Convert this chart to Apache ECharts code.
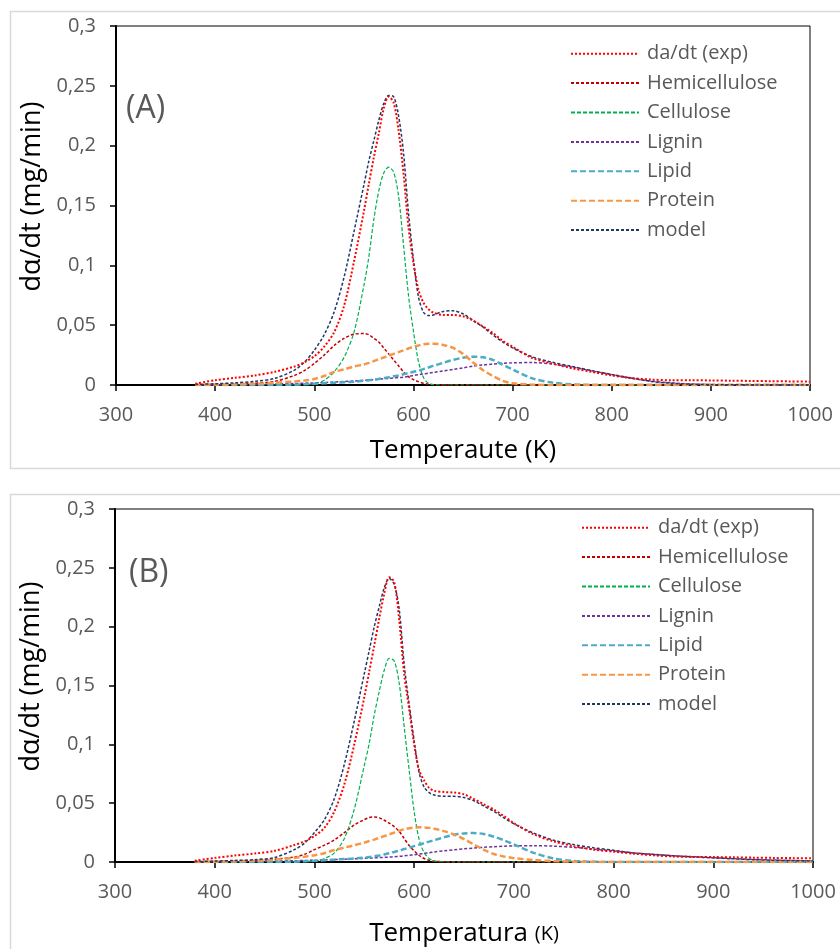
<!DOCTYPE html>
<html>
<head>
<meta charset="utf-8">
<script src="https://cdn.jsdelivr.net/npm/echarts@6/dist/echarts.min.js"></script>
<style>
html,body{margin:0;padding:0;background:#fff;}
#chart{width:840px;height:949px;}
</style>
</head>
<body>
<div id="chart"></div>
<script>
// Temperature grid (K)
var temps = [380,400,420,440,460,480,490,500,510,520,530,540,550,555,560,565,570,575,580,585,590,595,600,605,610,615,620,630,640,650,660,670,680,690,700,720,740,760,780,800,820,840,860,880,900,920,940,960,980,1000];

// Panel A
var expA = [0.001,0.004,0.006,0.008,0.011,0.0155,0.019,0.024,0.032,0.044,0.066,0.103,0.145,0.168,0.19,0.21,0.231,0.241,0.236,0.213,0.177,0.132,0.102,0.08,0.069,0.0635,0.0605,0.0585,0.0585,0.0575,0.054,0.049,0.0435,0.037,0.032,0.0225,0.018,0.014,0.011,0.008,0.0058,0.0045,0.004,0.004,0.0038,0.0036,0.0034,0.0032,0.003,0.0028];
var hemiA = [0,0.0003,0.0007,0.0015,0.003,0.008,0.012,0.018,0.025,0.033,0.039,0.0425,0.043,0.042,0.039,0.036,0.031,0.026,0.021,0.016,0.011,0.007,0.0045,0.0028,0.0015,0.0007,0.0003,0,0,0,0,0,0,0,0,0,0,0,0,0,0,0,0,0,0,0,0,0,0,0];
var cellA = [0,0,0,0,0,0,0.0003,0.001,0.004,0.011,0.023,0.044,0.083,0.107,0.138,0.162,0.177,0.182,0.178,0.158,0.117,0.075,0.045,0.02,0.0065,0.0015,0.0003,0,0,0,0,0,0,0,0,0,0,0,0,0,0,0,0,0,0,0,0,0,0,0];
var ligA = [0,0.0002,0.0003,0.0005,0.0008,0.0012,0.0015,0.0018,0.0021,0.0025,0.0029,0.0033,0.0039,0.0042,0.0045,0.0048,0.0052,0.0055,0.0058,0.0062,0.0066,0.0072,0.008,0.0086,0.0092,0.0098,0.0105,0.0118,0.013,0.0143,0.0158,0.0167,0.0175,0.0181,0.0185,0.0188,0.0175,0.015,0.0118,0.0087,0.0055,0.0033,0.0018,0.0009,0.0004,0.0002,0,0,0,0];
var lipA = [0,0,0,0,0,0.0003,0.0006,0.001,0.0014,0.0018,0.0023,0.0028,0.0035,0.004,0.0045,0.005,0.0058,0.0065,0.0073,0.008,0.009,0.01,0.011,0.012,0.0133,0.0146,0.016,0.0185,0.021,0.0228,0.0237,0.0232,0.021,0.017,0.013,0.0055,0.002,0.0005,0,0,0,0,0,0,0,0,0,0,0,0];
var protA = [0,0.0003,0.0006,0.001,0.0018,0.003,0.0037,0.005,0.0075,0.011,0.013,0.0155,0.0172,0.0185,0.02,0.0215,0.023,0.0245,0.026,0.0275,0.029,0.0305,0.032,0.033,0.034,0.0345,0.0345,0.0335,0.031,0.026,0.019,0.0125,0.0075,0.0035,0.0015,0.0003,0,0,0,0,0,0,0,0,0,0,0,0,0,0];
var modelA = [0.0005,0.001,0.0018,0.003,0.0055,0.0125,0.019,0.029,0.042,0.061,0.09,0.128,0.167,0.187,0.204,0.221,0.235,0.242,0.241,0.225,0.194,0.144,0.105,0.074,0.061,0.058,0.0585,0.0615,0.062,0.0595,0.054,0.0485,0.042,0.036,0.031,0.0235,0.019,0.0155,0.012,0.0088,0.0058,0.003,0.0015,0.0007,0.0003,0.0002,0.0001,0.0001,0,0];

// Panel B
var expB = [0.001,0.0035,0.0055,0.0072,0.0095,0.0145,0.0175,0.022,0.029,0.043,0.066,0.1,0.14,0.162,0.184,0.207,0.228,0.242,0.238,0.206,0.16,0.13,0.1,0.078,0.0694,0.063,0.0605,0.0595,0.059,0.0575,0.0535,0.049,0.0445,0.039,0.033,0.0235,0.0175,0.0135,0.0105,0.0088,0.0071,0.0057,0.0047,0.0043,0.0042,0.004,0.0037,0.0035,0.0033,0.0031];
var hemiB = [0,0.0003,0.0006,0.0012,0.0023,0.0043,0.0065,0.0105,0.0143,0.0188,0.025,0.0315,0.036,0.0378,0.0382,0.0375,0.0355,0.033,0.03,0.026,0.02,0.014,0.0095,0.0055,0.003,0.0015,0.0007,0.0002,0,0,0,0,0,0,0,0,0,0,0,0,0,0,0,0,0,0,0,0,0,0];
var cellB = [0,0,0,0,0,0,0.0002,0.0007,0.003,0.0078,0.02,0.045,0.082,0.101,0.125,0.145,0.163,0.173,0.171,0.152,0.115,0.078,0.043,0.019,0.008,0.003,0.001,0,0,0,0,0,0,0,0,0,0,0,0,0,0,0,0,0,0,0,0,0,0,0];
var ligB = [0,0.0002,0.0004,0.0006,0.0008,0.0011,0.0013,0.0015,0.0018,0.0021,0.0024,0.0027,0.0031,0.0033,0.0035,0.0037,0.004,0.0042,0.0045,0.0048,0.0052,0.0057,0.0062,0.0067,0.0073,0.0079,0.0085,0.0095,0.0104,0.0112,0.0119,0.0125,0.013,0.0134,0.0137,0.0139,0.0135,0.0124,0.0109,0.0094,0.0077,0.0064,0.0053,0.0045,0.0037,0.0029,0.0022,0.0017,0.0013,0.0009];
var lipB = [0,0,0,0,0,0.0003,0.0006,0.001,0.0015,0.002,0.0025,0.003,0.0038,0.0042,0.0048,0.0055,0.0064,0.0074,0.0085,0.0097,0.011,0.0122,0.0135,0.0148,0.016,0.0173,0.0185,0.021,0.0232,0.0243,0.0246,0.0238,0.0215,0.0185,0.015,0.0078,0.003,0.0009,0.0002,0,0,0,0,0,0,0,0,0,0,0];
var protB = [0,0.0003,0.0006,0.001,0.002,0.0035,0.0045,0.0058,0.0075,0.0102,0.0122,0.0143,0.0165,0.0178,0.019,0.0205,0.022,0.0235,0.025,0.0265,0.0278,0.0287,0.0293,0.0295,0.0294,0.029,0.0283,0.0262,0.0233,0.0195,0.0148,0.0103,0.0068,0.0047,0.0033,0.0017,0.0008,0.0003,0.0001,0,0,0,0,0,0,0,0,0,0,0];
var modelB = [0.0003,0.0008,0.0013,0.002,0.0038,0.0105,0.016,0.025,0.036,0.054,0.083,0.12,0.16,0.18,0.2,0.217,0.233,0.241,0.236,0.215,0.168,0.134,0.103,0.076,0.0637,0.059,0.057,0.0558,0.0558,0.0548,0.052,0.0475,0.043,0.0375,0.0325,0.0245,0.0185,0.0148,0.0121,0.01,0.0077,0.0065,0.0053,0.0043,0.0035,0.0027,0.002,0.0015,0.0012,0.0009];

// Labels
var seriesNames = ['da/dt (exp)','Hemicellulose','Cellulose','Lignin','Lipid','Protein','model'];
var xTickLabels = ['300','400','500','600','700','800','900','1000'];
var yTickLabels = ['0','0,05','0,1','0,15','0,2','0,25','0,3'];
var panelLabels = ['(A)','(B)'];
var yTitle = 'dα/dt (mg/min)';
var xTitleA = 'Temperaute (K)';
var xTitleB = ['Temperatura','(K)'];

var styles = [
  {color:'#FF0000', width:2, type:[2,2]},
  {color:'#C00000', width:1.5, type:[3,2]},
  {color:'#00B050', width:1.2, type:[4,2]},
  {color:'#7030A0', width:1.5, type:[3,2]},
  {color:'#4BACC6', width:2.5, type:[6,3]},
  {color:'#F79646', width:2.5, type:[6,3]},
  {color:'#203864', width:1.5, type:[3,2]}
];
var dataA = [expA,hemiA,cellA,ligA,lipA,protA,modelA];
var dataB = [expB,hemiB,cellB,ligB,lipB,protB,modelB];

var drawOrder = [1,2,3,4,5,6,0];
var series = [];
[dataA,dataB].forEach(function(set, g){
  drawOrder.forEach(function(k){
    series.push({
      name: seriesNames[k], type:'line', xAxisIndex:g, yAxisIndex:g,
      symbol:'none', smooth:0.3, silent:true, animation:false,
      data: temps.map(function(t,i){return [t, set[k][i]];}),
      lineStyle:{color:styles[k].color, width:styles[k].width, type:styles[k].type},
      itemStyle:{color:styles[k].color},
      z: k===0 ? 3 : 2
    });
  });
});

var tickFont = {fontFamily:'Open Sans', fontSize:20, color:'#595959'};

function xAxis(g, name, gap){
  return {
    type:'value', gridIndex:g, min:300, max:1000, interval:100,
    axisLine:{show:true, onZero:false, lineStyle:{color:'#000', width:2}},
    axisTick:{show:true, length:6, lineStyle:{color:'#000', width:1.5}},
    splitLine:{show:false},
    axisLabel:Object.assign({margin:20, formatter:function(v,i){return xTickLabels[i];}}, tickFont),
    name:name, nameLocation:'middle', nameGap:gap,
    nameTextStyle:{fontFamily:'Open Sans', fontSize:26, color:'#000',
      rich:{a:{fontFamily:'Open Sans', fontSize:26, color:'#000'}, b:{fontFamily:'Open Sans', fontSize:20, color:'#000'}}}
  };
}
function yAxis(g){
  return {
    type:'value', gridIndex:g, min:0, max:0.3, interval:0.05,
    axisLine:{show:true, lineStyle:{color:'#000', width:2}},
    axisTick:{show:true, length:6, lineStyle:{color:'#000', width:1.5}},
    splitLine:{show:false},
    axisLabel:Object.assign({margin:20, formatter:function(v,i){return yTickLabels[i];}}, tickFont),
    name:yTitle, nameLocation:'middle', nameGap:57,
    nameTextStyle:{fontFamily:'Open Sans', fontSize:27, color:'#000', padding:[0,0,0,18]}
  };
}

function legend(left, top){
  return {
    data: seriesNames.map(function(n){return {name:n, itemStyle:{color:'rgba(0,0,0,0)', borderWidth:0, opacity:0}};}),
    orient:'vertical', left:left, top:top,
    itemWidth:68, itemHeight:14, itemGap:0, padding:0,
    selectedMode:false,
    textStyle:{fontFamily:'Open Sans', fontSize:20, color:'#595959', lineHeight:29.4, padding:[0,0,0,3]}
  };
}

var option = {
  animation:false,
  backgroundColor:'#fff',
  grid:[
    {left:116, top:26, width:694, height:359, show:true, borderColor:'#000', borderWidth:1},
    {left:115, top:509, width:698, height:353, show:true, borderColor:'#000', borderWidth:1}
  ],
  xAxis:[xAxis(0, xTitleA, 53), xAxis(1, '{a|'+xTitleB[0]+'} {b|'+xTitleB[1]+'}', 59)],
  yAxis:[yAxis(0), yAxis(1)],
  legend:[legend(570, 39), legend(581, 513)],
  graphic:[
    {type:'rect', shape:{x:10.5, y:11.5, width:840, height:457}, style:{fill:'none', stroke:'#D9D9D9', lineWidth:1.5}, z:-1},
    {type:'rect', shape:{x:10.5, y:494.5, width:840, height:470}, style:{fill:'none', stroke:'#D9D9D9', lineWidth:1.5}, z:-1},
    {type:'text', left:126, top:93, style:{text:panelLabels[0], font:'32px "Open Sans"', fill:'#595959'}},
    {type:'text', left:129, top:557, style:{text:panelLabels[1], font:'32px "Open Sans"', fill:'#595959'}}
  ],
  series: series
};

var chart = echarts.init(document.getElementById('chart'), null, {renderer:'canvas'});
chart.setOption(option);
</script>
</body>
</html>
